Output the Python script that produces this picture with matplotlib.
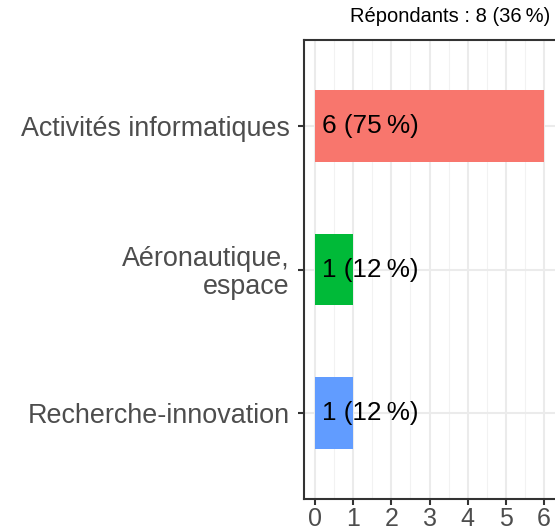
import matplotlib
matplotlib.use("Agg")
import matplotlib.pyplot as plt
from matplotlib.ticker import MultipleLocator

plt.rcParams['font.family'] = ['Liberation Sans', 'DejaVu Sans']

categories = ["Activités informatiques", "Aéronautique,\nespace", "Recherche-innovation"]
values = [6, 1, 1]
labels = ["6 (75\u202f%)", "1 (12\u202f%)", "1 (12\u202f%)"]
colors = ["#F8766D", "#00BA38", "#619CFF"]
title = "Répondants : 8 (36\u202f%)"

fig = plt.figure(figsize=(5.55, 5.30), dpi=100)
ax = fig.add_axes([304/555, 1 - 499/530, (555 - 304)/555, (499 - 40)/530])

ypos = [3, 2, 1]
ax.barh(ypos, values, height=0.5, color=colors, zorder=3)
for y, lab in zip(ypos, labels):
    ax.text(0.18, y, lab, va='center', ha='left', fontsize=18.8, color='black', zorder=4,
            family=['Liberation Sans', 'DejaVu Sans'])

ax.set_xlim(-0.3, 6.3)
ax.set_ylim(0.4, 3.6)
ax.set_yticks(ypos)
ax.set_yticklabels(categories, fontsize=19.4, color='#4D4D4D', linespacing=1.1)
for t in ax.get_yticklabels():
    t.set_horizontalalignment('right')
ax.xaxis.set_major_locator(MultipleLocator(1))
ax.xaxis.set_minor_locator(MultipleLocator(0.5))
ax.tick_params(axis='x', which='major', labelsize=18, labelcolor='#4D4D4D', length=4, width=1.5,
               color='#333333', pad=1.5)
ax.tick_params(axis='x', which='minor', length=0)
ax.tick_params(axis='y', length=4, width=1.5, color='#333333', pad=6.5)
ax.grid(axis='x', which='major', color='#EBEBEB', linewidth=1.5, zorder=0)
ax.grid(axis='x', which='minor', color='#F2F2F2', linewidth=0.8, zorder=0)
ax.grid(axis='y', which='major', color='#EBEBEB', linewidth=1.5, zorder=0)
for s in ['left', 'bottom', 'top']:
    ax.spines[s].set_color('#333333')
    ax.spines[s].set_linewidth(1.5)
ax.spines['right'].set_visible(False)

fig.text(550/555, 1 - 17/530, title, ha='right', va='center', fontsize=14.5, color='black')

fig.savefig("out.png", dpi=100)
